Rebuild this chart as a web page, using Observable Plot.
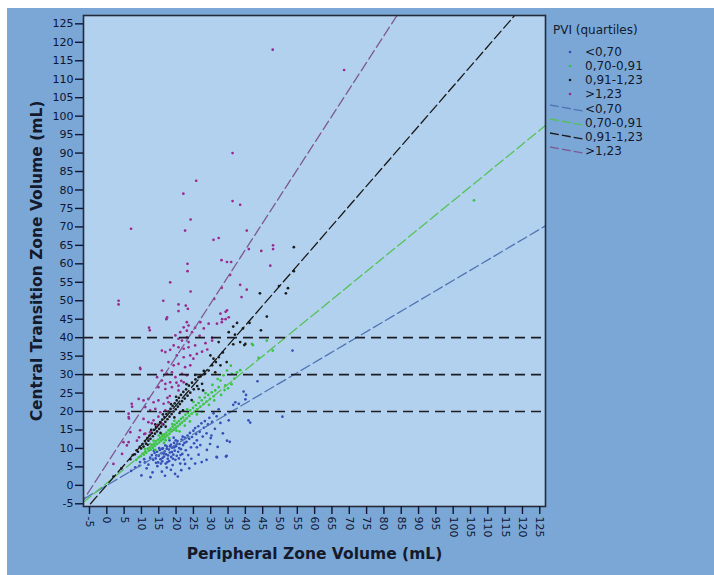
<!DOCTYPE html>
<html><head><meta charset="utf-8">
<script src="https://cdn.jsdelivr.net/npm/d3@7"></script>
<script src="https://cdn.jsdelivr.net/npm/@observablehq/plot@0.6"></script>
<style>
html,body{margin:0;padding:0;background:#fff;}
#wrap{position:relative;width:714px;height:575px;background:#fff;overflow:hidden;}
#chart{position:absolute;left:7px;top:8px;}
#legend{position:absolute;left:0;top:0;font-family:"DejaVu Sans";font-size:12px;color:#111a2e;}
#legend .t{position:absolute;white-space:nowrap;line-height:16px;}
</style></head><body>
<div id="wrap"><div id="chart"></div><div id="legend"></div></div>
<script>
const groups = ["<0,70", "0,70-0,91", "0,91-1,23", ">1,23"];
const pointColors = ["#3550b8", "#38c440", "#1b1b1b", "#982a8e"];
const lineColors = ["#5175b4", "#55c257", "#1a1a1a", "#7e5a94"];
const slopes = [0.555, 0.765, 1.08, 1.45];
const intercepts = [0, 0.6, 0.1, 5.8];
const refLevels = [20, 30, 40];
const legendTitle = "PVI (quartiles)";
const xLabel = "Peripheral Zone Volume (mL)";
const yLabel = "Central Transition Zone Volume (mL)";
const xTicks = [-5,0,5,10,15,20,25,30,35,40,45,50,55,60,65,70,75,80,85,90,95,100,105,110,115,120,125];
const yTicks = [-5,0,5,10,15,20,25,30,35,40,45,50,55,60,65,70,75,80,85,90,95,100,105,110,115,120,125];

const ptsLow = [[8.2,4.9],[9.6,6.3],[10.8,7.1],[7,3.9],[10,2.7],[12.6,2.2],[15.9,3.7],[18.5,4.2],[14.6,5.2],[11.5,4.6],[13.2,3.5],[16.8,2.6],[19.7,3.1],[20.5,2.4],[17.3,4.8],[21.5,4.1],[9.4,5.3],[11,6.2],[12,5.6],[22.6,5.8],[23.8,4.6],[25.5,5.9],[27.4,6.3],[28.8,6.9],[26,10.3],[28.9,9.6],[31.8,7.6],[34.4,7.8],[31.7,7.7],[34.6,8],[24.4,7.2],[26.5,8.3],[29.8,11.2],[32,10.4],[35.5,11.8],[30.2,13.5],
[12.5,7.5],[13,8.2],[13.4,6.9],[13.8,8.8],[14.1,7.3],[14.5,9.1],[14.8,6.2],[15,8],[15.3,9.6],[15.5,7.1],[15.8,8.7],[16,6.5],[16.2,10],[16.5,7.8],[16.7,9.2],[17,5.9],[17.1,8.4],[17.4,10.5],[17.6,7.2],[17.9,9.7],[18,6.6],[18.2,8.9],[18.5,11],[18.6,7.7],[18.9,10.2],[19,5.5],[19.2,8.3],[19.4,11.5],[19.6,9.4],[19.8,6.9],[20,10.6],[20.2,8],[20.4,12],[20.6,9.1],[20.8,7.3],[21,11.2],[21.2,5.9],[21.4,9.8],[21.6,12.4],[21.8,8.5],[22,10.9],[22.3,7],[22.5,12.9],[22.8,9.5],[23,11.8],[23.3,13.5],[23.5,8.2],[23.8,12.6],[24,14.2],[24.3,10.3],[24.6,13.1],[25,14.8],[25.2,11.4],[25.5,15.5],[25.8,13.9],[26,12.2],[26.4,16],[26.8,14.5],[27,10.9],[27.3,16.8],[27.7,13.2],[28,15.6],[28.3,17.4],[28.8,14.1],[29.2,16.5],[29.6,18.3],[30,12.8],[30.4,17.2],[30.8,19.5],[31.2,15.3],[31.7,18.7],[32.3,20.6],[32.8,16.9],[33.5,14.1],[34.2,19.1],[34.7,12.1],[35.2,17.6],[36.5,21.8],[37.1,22.5],[38.1,22.1],[39.5,25.4],[40.2,24.5],[40,23.3],[40.9,17.6],[41.4,17],[50.7,18.6],[43.5,28.2],[53.6,36.5],
[14.3,8.1],[15.1,10.1],[15.9,9.9],[16.4,8.6],[16.9,10.8],[17.3,9.9],[17.7,8.1],[18.3,10.6],[18.8,9],[19.1,7.2],[19.5,10.3],[19.9,12.2],[20.3,11.3],[20.9,10.1],[21.3,8.2],[21.9,13.2],[22.4,11.5],[17.5,6.3],[16.1,7.4],[15.6,5.9],[14.2,6.1],[13.6,9.4],[18.1,12.2],[19.3,12.9]];

const ptsMid = [[8.5,6.9],[9.2,7.6],[9.8,7.9],[10.3,8.6],[10.7,8.3],[11.1,9.2],[11.4,8.8],[11.8,9.9],[12.1,9.4],[12.4,10.3],[12.7,9.7],[13,10.9],[13.3,10.2],[13.6,11.3],[13.9,10.7],[14.2,11.9],[14.5,11.2],[14.8,12.4],[15.1,11.6],[15.4,12.9],[15.7,12.1],[16,13.4],[16.3,12.5],[16.6,13.8],[16.9,13],[17.2,14.3],[17.5,13.5],[17.8,14.9],[18.1,14],[18.4,15.3],[18.7,14.6],[19,15.9],[19.3,15],[19.6,16.4],[19.9,15.5],[20.2,16.9],[20.5,16],[20.8,17.4],[21.1,16.5],[21.4,18],[21.7,17],[22,18.4],[22.4,17.5],[22.7,19.1],[23,18.1],[23.4,19.6],[23.8,18.8],[24.1,20.3],[24.5,19.4],[24.9,21],[25.3,20],[25.7,21.7],[26.1,20.6],[26.5,22.3],[27,21.3],[27.4,23],[27.9,22],[28.3,23.8],[28.8,22.7],[29.3,24.5],[29.8,23.4],[30.3,25.2],[30.8,24.1],[31.3,25.7],[32.3,26.6],[32.8,28.4],[33.7,29.8],[34.2,27.1],[34.7,31.1],[35,26.3],[36.1,30.2],[37.6,30.6],[36.8,28.9],[35.8,32.4],[38.5,31.2],[41.9,38.3],[42.2,38],[43.8,34.5],[46.2,39.2],[47.9,36.5],[106,77.2],
[14,9.6],[15,13.5],[16.5,11.5],[18,12.8],[19.5,17.5],[21,14.6],[22.5,16.2],[24,17.3],[25,22.6],[26,19.2],[27.5,19.9],[28.5,25],[29.5,21.8],[31,23],[33,24.5],[32,28.8],[34,25.8],[36,27.4],[30.5,27.2],[12.5,11.2],[11,9.9],[13.5,12.1],[15.8,13.9],[17,12.2],[18.9,16.6],[20.1,14.8],[23.2,20.6],[26.8,23.8]];

const ptsHigh = [[6.8,7.1],[7.5,8.2],[8.1,8.4],[8.6,9.5],[9,9.1],[9.5,10.4],[9.9,10],[10.3,11.2],[10.6,10.5],[11,12],[11.3,11.3],[11.7,12.8],[12,12.1],[12.3,13.5],[12.6,12.6],[13,14.2],[13.3,13.3],[13.6,15],[13.9,14],[14.2,15.8],[14.5,14.6],[14.8,16.4],[15.1,15.3],[15.4,17.1],[15.7,15.9],[16,17.8],[16.3,16.5],[16.6,18.5],[16.9,17.2],[17.2,19.3],[17.5,17.9],[17.8,20],[18.1,18.6],[18.4,20.7],[18.7,19.3],[19,21.5],[19.3,20],[19.6,22.2],[19.9,20.6],[20.2,23],[20.5,21.3],[20.8,23.7],[21.1,22],[21.4,24.5],[21.7,22.8],[22.1,25.3],[22.5,23.5],[22.9,26],[23.3,24.3],[23.7,27],[24.1,25.1],[24.6,27.8],[25.1,26],[25.6,28.7],[26.1,26.9],[26.5,26.1],[27,29.5],[27.5,27.5],[28,31],[28.4,30.2],[29.4,31.1],[29.9,35.2],[30.4,32.5],[30.8,34.3],[31.3,30.6],[31.5,33.4],[32.3,34.7],[32.8,32.5],[26.5,29.3],[33.5,36],[34.6,33.4],[36.5,38.2],[37,40.8],[38.5,38.8],[40,38.3],[39.7,38],[41.2,44],[44.5,42],[52.3,53.4],[54,58],
[14,16.5],[15.5,14.2],[17,15.9],[18.5,22],[19.5,18.4],[21,19.6],[22,20.3],[23,27.4],[24.5,23.1],[16.2,19.2],[12.8,15],[11.8,11],[20,24],[25.5,29.9],[27.8,25.7],
[49.7,54],[51.7,52],[44.2,52],[46.2,45.7],[37.6,44],[39.3,42.5],[54,64.5],[32.3,38.8],[36.5,43],[35.2,41.5],[1.9,2.4],[4.2,4.6]];

const ptsTop = [[20.7,49],[22.8,48.7],[23.4,47.8],[20.7,47.2],[17.4,45.5],[12.2,42.7],[23.1,44.2],[23.6,43.3],[22.2,42.8],[23.1,41.9],[21.2,41.5],[24.6,41.5],[25.5,42.7],[19.8,40.6],[20.7,39.7],[21.7,39.2],[23.1,40.1],[23.6,38.8],[19.3,37.9],[20.7,37.4],[22.2,37],[23.6,37.4],[25.5,37.9],[15.9,36.5],[16.9,36.1],[18.3,36.7],[20.2,35.2],[22.2,34.7],[24.1,35.2],[25,34.3],[26,35.6],[17.8,33.4],[19.3,32.5],[20.7,32.9],[22.6,32],[24.1,32.5],[9.6,31.8],[15.9,31.1],[17.4,30.2],[18.8,30.6],[19.8,29.3],[21.7,30.2],[23.1,29.8],[14.5,29.3],[15.9,28.4],[16.9,27.5],[18.3,27.9],[20.7,27],[22.2,27.9],[14.9,26.6],[16.9,26.1],[18.8,26.6],[20.7,25.7],[20.1,27.8],[21.5,28.3],[9.2,23.4],[10.6,23],[12,23.4],[13.5,22.5],[14.9,23],[16.4,22.1],[17.8,22.5],[17.5,23.7],[11.1,21.2],[12.5,20.3],[14,20.7],[15.4,19.8],[16.9,20.3],[18.2,24.2],[10.6,18],[12,17.1],[13.5,17.6],[14.5,16.2],[15.9,16.7],[14.9,18.6],[9.6,14.9],[11.1,14],[12.5,14.4],[13,16.8],[8.7,12.1],[9.3,13],[10.8,13.9],
[6.3,18.5],[6.3,11.7],[6.8,14.4],[7.2,22.1],[6.3,19.4],[4.8,11.7],[5.8,10.8],[4.4,8.5],[7.3,21.3],[6.4,18.1],[1.9,5.8],[9.7,31.5],
[47.9,118],[68.5,112.5],[36.3,90],[25.8,82.5],[22.1,79],[36.3,77],[38.5,76],[24.2,72],[7,69.5],[22.6,69],[40.4,69],[30.8,66.5],[32.3,67],[48,65],[48,64],[44.6,63.5],[41,64],[33.1,61],[34.7,60.5],[35.9,60.5],[23.3,60],[23.3,58],[47.2,59.5],[35.6,57],[18.3,55],[38.5,54.3],[40.4,53],[24.2,52.5],[33.2,53.5],[38.9,51],[3.4,50],[3.4,49],[16.3,50],[31,50.5],[34.3,47],[33.3,45],[34.3,45],[12.4,42],[17.2,45],[29.4,43.8],[32.8,46.5],[35.2,45.5],[34.7,47.4],[31.8,43.8],[33.2,44.2],[27,44.2],[30.4,39.2],[30.4,40],[28.5,38.5],[27.5,36.2],[26.8,40.5],[28,42.5],[29,36.8]];

const groupPts = [ptsLow, ptsMid, ptsHigh, ptsTop];
const points = groupPts.flatMap((arr, i) => arr.map(([x, y]) => ({x, y, g: groups[i]})));
const fitLines = groups.map((g, i) => [-10, 135].map(x => ({x, y: intercepts[i] + slopes[i] * x, g})));

const ink = "#0d1633";
const plot = Plot.plot({
  width: 707, height: 567,
  marginLeft: 76, marginRight: 169, marginTop: 7, marginBottom: 69,
  style: {background: "#7ba7d6", fontFamily: "DejaVu Sans", fontSize: "11px", color: ink, overflow: "visible"},
  x: {domain: [-6.73, 126.65]},
  y: {domain: [-5.73, 127.26]},
  color: {domain: groups, range: pointColors},
  marks: [
    Plot.frame({fill: "#b2d1ee", stroke: "none"}),
    Plot.dot(points, {x: "x", y: "y", fill: "g", r: 1.35, stroke: "none"}),
    ...fitLines.map((d, i) => Plot.line(d, {x: "x", y: "y", stroke: lineColors[i], strokeWidth: 1.3, strokeDasharray: "10,4", clip: true})),
    Plot.ruleY(refLevels, {stroke: "#1c1c22", strokeWidth: 1.6, strokeDasharray: "10,6"}),
    Plot.frame({stroke: "#262a36", strokeWidth: 1.6}),
    Plot.axisX({ticks: xTicks, tickFormat: d => String(d), tickRotate: 90, tickSize: 8, tickPadding: 2, label: null, strokeWidth: 1.4}),
    Plot.axisY({ticks: yTicks, tickFormat: d => String(d), tickSize: 8, tickPadding: 2, label: null, strokeWidth: 1.4}),
    Plot.text([xLabel], {text: d => d, frameAnchor: "bottom", dy: 52, fontWeight: "bold", fontSize: 15.5, fill: "#141a2b"}),
    Plot.text([yLabel], {text: d => d, frameAnchor: "left", textAnchor: "middle", rotate: -90, dx: -46, fontWeight: "bold", fontSize: 15.5, fill: "#141a2b"})
  ]
});
document.getElementById("chart").appendChild(plot);

// legend (HTML overlay)
const leg = document.getElementById("legend");
function addText(txt, left, cy) {
  const el = document.createElement("div");
  el.className = "t"; el.textContent = txt;
  el.style.left = left + "px"; el.style.top = (cy - 8) + "px";
  leg.appendChild(el);
}
addText(legendTitle, 553, 30);
const dotRows = [52, 66, 80, 94];
const lineRows = [109, 123, 137, 151];
const ns = "http://www.w3.org/2000/svg";
groups.forEach((g, i) => {
  const s = document.createElementNS(ns, "svg");
  s.setAttribute("width", 6); s.setAttribute("height", 6);
  s.style.position = "absolute"; s.style.left = "567px"; s.style.top = (dotRows[i] - 3) + "px";
  const c = document.createElementNS(ns, "circle");
  c.setAttribute("cx", 3); c.setAttribute("cy", 3); c.setAttribute("r", 1.3); c.setAttribute("fill", pointColors[i]);
  s.appendChild(c); leg.appendChild(s);
  addText(g, 585, dotRows[i]);
});
groups.forEach((g, i) => {
  const s = document.createElementNS(ns, "svg");
  s.setAttribute("width", 34); s.setAttribute("height", 12);
  s.style.position = "absolute"; s.style.left = "550px"; s.style.top = (lineRows[i] - 6) + "px";
  const l = document.createElementNS(ns, "line");
  l.setAttribute("x1", 0); l.setAttribute("y1", 2); l.setAttribute("x2", 33); l.setAttribute("y2", 8);
  l.setAttribute("stroke", lineColors[i]); l.setAttribute("stroke-width", 1.3); l.setAttribute("stroke-dasharray", "9,3");
  s.appendChild(l); leg.appendChild(s);
  addText(g, 585, lineRows[i]);
});
</script>
</body></html>
